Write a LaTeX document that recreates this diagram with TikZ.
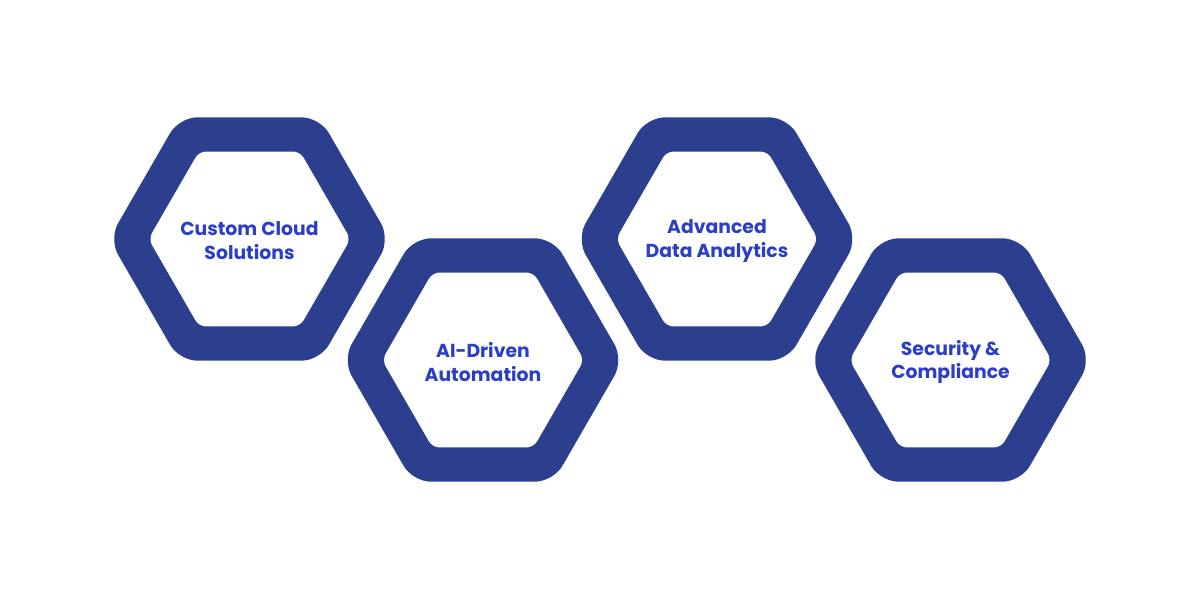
\documentclass[tikz,border=0pt]{standalone}
\usepackage{fontspec}
\newfontfamily\hexfont{Poppins}
\usetikzlibrary{calc}
\usetikzlibrary{shapes.geometric}

\definecolor{hexblue}{HTML}{2B3F8E}
\definecolor{hextext}{HTML}{2A3EC6}

\tikzset{
  hexout/.style={regular polygon, regular polygon sides=6, minimum size=5.62cm,
    inner sep=0pt, outer sep=0pt, fill=hexblue, rounded corners=0.36cm},
  hexin/.style={regular polygon, regular polygon sides=6, minimum size=4.04cm,
    inner sep=0pt, outer sep=0pt, fill=white, rounded corners=0.14cm},
  hexlabel/.style={text=hextext, align=center, inner sep=0pt, yshift=-0.04cm,
    font=\hexfont\bfseries\fontsize{10.7}{13.6}\selectfont}
}

\begin{document}
\begin{tikzpicture}
\useasboundingbox (0,0) rectangle (24,12);
\coordinate (O) at (4.99,7.22);

\node[hexout] (cloud) at (O) {};
\node[hexin] (cloud-in) at (cloud) {};
\node[hexlabel] (cloud-txt) at (cloud) {Custom Cloud\\Solutions};

\node[hexout] (ai) at ($ (O)+(4.67,-2.42) $) {};
\node[hexin] (ai-in) at (ai) {};
\node[hexlabel] (ai-txt) at (ai) {AI-Driven\\Automation};

\node[hexout] (data) at ($ (O)+(9.35,0) $) {};
\node[hexin] (data-in) at (data) {};
\node[hexlabel] (data-txt) at (data) {Advanced\\Data Analytics};

\node[hexout] (sec) at ($ (O)+(14.02,-2.42) $) {};
\node[hexin] (sec-in) at (sec) {};
\node[hexlabel] (sec-txt) at (sec) {Security \&\\Compliance};
\end{tikzpicture}
\end{document}
